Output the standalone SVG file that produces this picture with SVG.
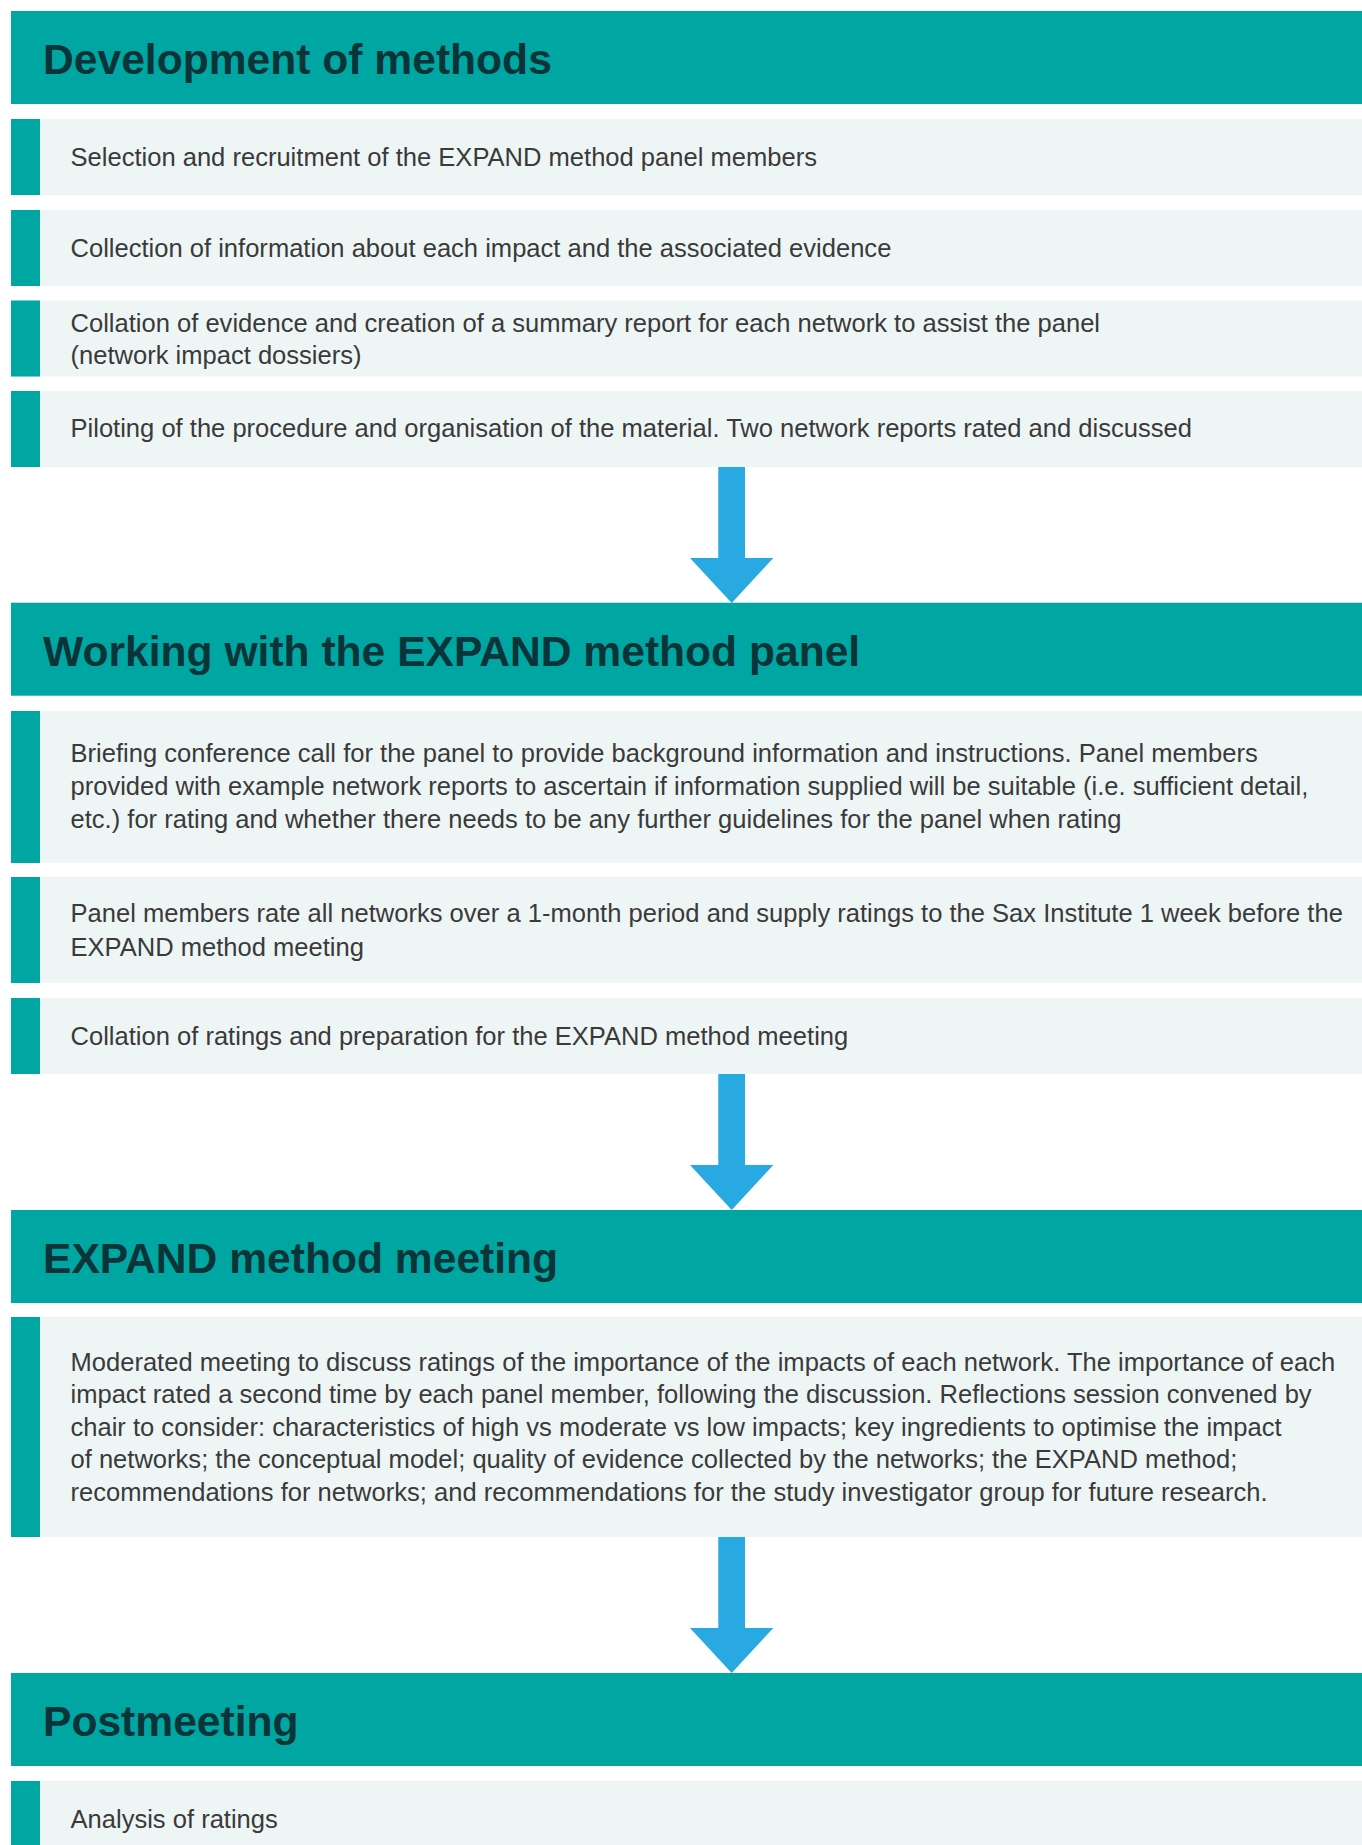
<svg xmlns="http://www.w3.org/2000/svg" width="1362" height="1845" viewBox="0 0 1362 1845">
  <style>
    .hdr { fill: #00A6A2; }
    .title { font-family: "Liberation Sans", Arial, sans-serif; font-weight: bold; font-size: 42.6px; fill: #0B3438; }
    .row { fill: #EEF6F5; }
    .bar { fill: #00A6A2; }
    .txt { font-family: "Liberation Sans", Arial, sans-serif; font-size: 25.55px; fill: #3A3A3A; }
    .arrow { fill: #29A9E1; }
  </style>
  <defs>
    <!-- block arrow: shaft + head, drawn from y=0 downward, tip at y=136 -->
    <path id="downArrow" d="M718.3 0 H745 V91 H773.3 L731.7 136 L690 91 H718.3 Z"/>
  </defs>
  <rect width="1362" height="1845" fill="#FFFFFF"/>

  <!-- Stage 1 -->
  <g id="stage-development">
    <rect class="hdr" x="11" y="11" width="1351" height="93"/>
    <text class="title" x="43" y="73.5">Development of methods</text>
  </g>
  <g id="step-selection">
    <rect class="row" x="11" y="119" width="1351" height="76"/>
    <rect class="bar" x="11" y="119" width="29" height="76"/>
    <text class="txt" x="70.5" y="165.7">Selection and recruitment of the EXPAND method panel members</text>
  </g>
  <g id="step-collection">
    <rect class="row" x="11" y="210" width="1351" height="76"/>
    <rect class="bar" x="11" y="210" width="29" height="76"/>
    <text class="txt" x="70.5" y="256.7">Collection of information about each impact and the associated evidence</text>
  </g>
  <g id="step-dossiers">
    <rect class="row" x="11" y="300.5" width="1351" height="76"/>
    <rect class="bar" x="11" y="300.5" width="29" height="76"/>
    <text class="txt" x="70.5" y="331.7">Collation of evidence and creation of a summary report for each network to assist the panel</text>
    <text class="txt" x="70.5" y="363.7">(network impact dossiers)</text>
  </g>
  <g id="step-piloting">
    <rect class="row" x="11" y="391" width="1351" height="76"/>
    <rect class="bar" x="11" y="391" width="29" height="76"/>
    <text class="txt" x="70.5" y="436.7">Piloting of the procedure and organisation of the material. Two network reports rated and discussed</text>
  </g>

  <!-- Stage 2 -->
  <g id="stage-panel">
    <rect class="hdr" x="11" y="602.7" width="1351" height="93"/>
    <text class="title" x="43" y="665.5">Working with the EXPAND method panel</text>
  </g>
  <g id="step-briefing">
    <rect class="row" x="11" y="711" width="1351" height="152"/>
    <rect class="bar" x="11" y="711" width="29" height="152"/>
    <text class="txt" x="70.5" y="761.7">Briefing conference call for the panel to provide background information and instructions. Panel members</text>
    <text class="txt" x="70.5" y="794.7">provided with example network reports to ascertain if information supplied will be suitable (i.e. sufficient detail,</text>
    <text class="txt" x="70.5" y="827.5">etc.) for rating and whether there needs to be any further guidelines for the panel when rating</text>
  </g>
  <g id="step-rating">
    <rect class="row" x="11" y="877" width="1351" height="106"/>
    <rect class="bar" x="11" y="877" width="29" height="106"/>
    <text class="txt" x="70.5" y="922.3">Panel members rate all networks over a 1-month period and supply ratings to the Sax Institute 1 week before the</text>
    <text class="txt" x="70.5" y="955.7">EXPAND method meeting</text>
  </g>
  <g id="step-preparation">
    <rect class="row" x="11" y="998" width="1351" height="76"/>
    <rect class="bar" x="11" y="998" width="29" height="76"/>
    <text class="txt" x="70.5" y="1044.5">Collation of ratings and preparation for the EXPAND method meeting</text>
  </g>

  <!-- Stage 3 -->
  <g id="stage-meeting">
    <rect class="hdr" x="11" y="1210" width="1351" height="93"/>
    <text class="title" x="43" y="1272.5">EXPAND method meeting</text>
  </g>
  <g id="step-moderated">
    <rect class="row" x="11" y="1317" width="1351" height="220"/>
    <rect class="bar" x="11" y="1317" width="29" height="220"/>
    <text class="txt" x="70.5" y="1370.7">Moderated meeting to discuss ratings of the importance of the impacts of each network. The importance of each</text>
    <text class="txt" x="70.5" y="1403.2">impact rated a second time by each panel member, following the discussion. Reflections session convened by</text>
    <text class="txt" x="70.5" y="1435.7">chair to consider: characteristics of high vs moderate vs low impacts; key ingredients to optimise the impact</text>
    <text class="txt" x="70.5" y="1468.2">of networks; the conceptual model; quality of evidence collected by the networks; the EXPAND method;</text>
    <text class="txt" x="70.5" y="1500.7">recommendations for networks; and recommendations for the study investigator group for future research.</text>
  </g>

  <!-- Stage 4 -->
  <g id="stage-postmeeting">
    <rect class="hdr" x="11" y="1673" width="1351" height="93"/>
    <text class="title" x="43" y="1735.5">Postmeeting</text>
  </g>
  <g id="step-analysis">
    <rect class="row" x="11" y="1781" width="1351" height="64"/>
    <rect class="bar" x="11" y="1781" width="29" height="64"/>
    <text class="txt" x="70.5" y="1827.7">Analysis of ratings</text>
  </g>

  <!-- Connectors between stages -->
  <g id="connectors">
    <use href="#downArrow" class="arrow" transform="translate(0,467)"/>
    <use href="#downArrow" class="arrow" transform="translate(0,1074)"/>
    <use href="#downArrow" class="arrow" transform="translate(0,1537)"/>
  </g>
</svg>
